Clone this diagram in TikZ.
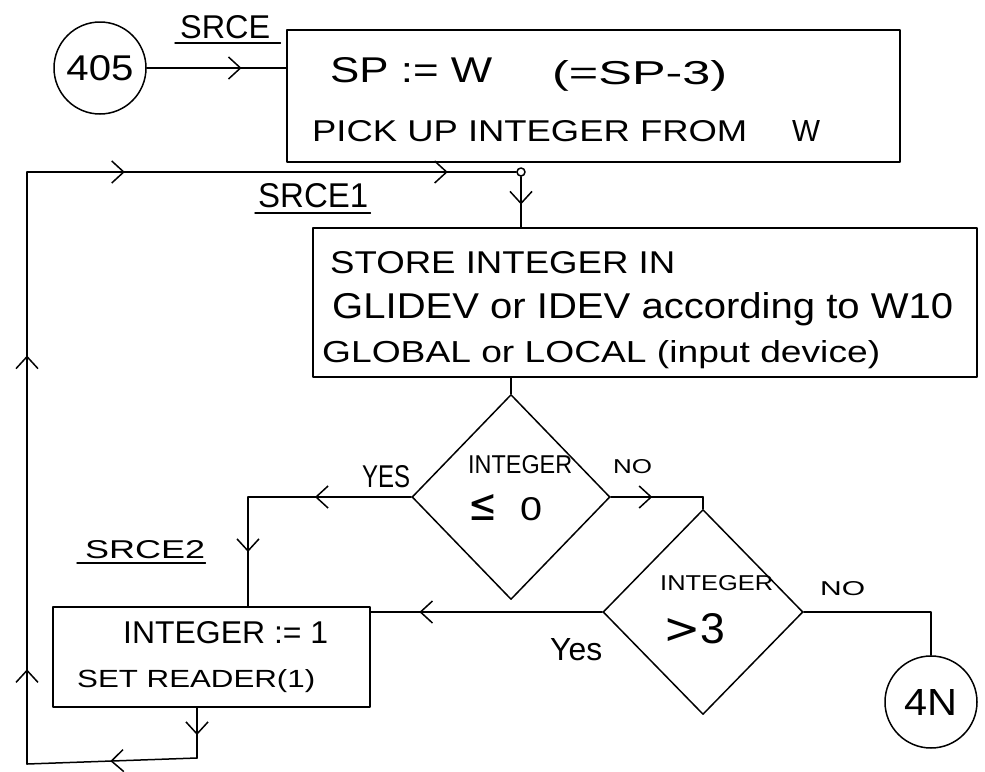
\documentclass[tikz,border=0pt]{standalone}
\usepackage{fontspec}
\setmainfont{Liberation Sans}
\newfontfamily\symf{DejaVu Sans}
\usepackage{graphicx}
\usetikzlibrary{shapes.geometric,arrows.meta,decorations.markings,calc}
\newcommand{\hw}[3]{\resizebox{#1pt}{#2pt}{#3}}
\tikzset{
  hd/.tip={Straight Barb[length=12pt,width=22pt]},
  ln/.style={line width=1.5pt, line cap=round, line join=round},
  amid/.style={postaction={decorate,decoration={markings,
      mark=at position #1 with {\arrow{hd}}}}},
  amidtwo/.style 2 args={postaction={decorate,decoration={markings,
      mark=at position #1 with {\arrow{hd}},
      mark=at position #2 with {\arrow{hd}}}}},
  txt/.style={anchor=base west, inner sep=0pt},
  boxn/.style={draw, ln, rectangle, inner sep=0pt},
  dia/.style={draw, ln, diamond, inner sep=0pt},
  conn/.style={draw, ln, circle, inner sep=0pt},
}
\begin{document}
\begin{tikzpicture}[x=1pt, y=-1pt]
\fill[white] (0,0) rectangle (985,771);
\useasboundingbox (0,0) rectangle (985,771);

% nodes
\node[conn, minimum size=92pt] (c405) at (100,68) {\hw{67}{25}{405}};
\node[boxn, minimum width=613pt, minimum height=132pt] (b1) at (593.5,96) {};
\node[boxn, minimum width=664pt, minimum height=149pt] (b2) at (645,302.5) {};
\node[dia, minimum width=198pt, minimum height=205pt] (d1) at (511,497) {};
\node[dia, minimum width=200pt, minimum height=205pt] (d2) at (703,612) {};
\node[boxn, minimum width=317pt, minimum height=100pt] (b3) at (211.5,657) {};
\node[conn, minimum size=92pt] (c4n) at (931,702) {\hw{53}{26}{4N}};
\node[conn, minimum size=8pt, fill=white] (j) at (521,172) {};

% texts
\node[txt] (tsrce) at (180,38) {\hw{90}{23}{SRCE}};
\node[txt] (tb1a) at (330,82) {\hw{162}{25}{SP := W}};
\node[txt] (tb1b) at (552,84) {\hw{175}{24}{(=SP-3)}};
\node[txt] (tb1c) at (312,141) {\hw{435}{21}{PICK UP INTEGER FROM}};
\node[txt] (tb1d) at (792,141) {\hw{28}{21}{W}};
\node[txt] (tsrce1) at (258,207) {\hw{110}{24}{SRCE1}};
\node[txt] (tb2a) at (330,273) {\hw{345}{22}{STORE INTEGER IN}};
\node[txt] (tb2b) at (332,318) {\hw{621}{26}{GLIDEV or IDEV according to W10}};
\node[txt] (tb2c) at (322,362) {\hw{558}{22}{GLOBAL or LOCAL (input device)}};
\node[txt] (td1a) at (468,473) {\hw{104}{18}{INTEGER}};
\node[txt] (td1b) at (468,520) {\hw{29}{26}{\symf ≤}};
\node[txt] (td1c) at (520,520) {\hw{22}{23}{0}};
\node[txt] (td2a) at (660,590) {\hw{113}{15}{INTEGER}};
\node[txt] (td2b) at (663,643) {\hw{62}{30}{{\symf >}3}};
\node[txt] (tyes1) at (362,487) {\hw{48}{22}{YES}};
\node[txt] (tno1) at (613,473) {\hw{39}{14}{NO}};
\node[txt] (tyes2) at (550,660) {\hw{52}{22}{Yes}};
\node[txt] (tno2) at (820,595) {\hw{45}{14}{NO}};
\node[txt] (tsrce2) at (85,558) {\hw{120}{18}{SRCE2}};
\node[txt] (tb3a) at (123,643) {\hw{205}{22}{INTEGER := 1}};
\node[txt] (tb3b) at (77,687) {\hw{238}{18}{SET READER(1)}};

% underlines
\draw[ln] ($(tsrce.base west)+(-5,5)$) -- ($(tsrce.base east)+(10,5)$);
\draw[ln] ($(tsrce1.base west)+(-3,6)$) -- ($(tsrce1.base east)+(2,6)$);
\draw[ln] ($(tsrce2.base west)+(-8,5)$) -- ($(tsrce2.base east)+(0,5)$);

% coordinates
\coordinate (b3o) at (197,707);
\coordinate (p1) at (197,758);
\coordinate (p2) at (27,764);
\coordinate (p3) at (27,172);
\coordinate (b3n) at (248,607);
\coordinate (d1l) at (248,497);

% connectors
\draw[ln, amid=0.68] (c405.east) -- (c405.east -| b1.west);
\draw[ln, amid=0.55] (j.south) -- (j |- b2.north);
\draw[ln] (d1.north |- b2.south) -- (d1.north);
\draw[ln, amid=0.59] (d1.west) -- (d1l);
\draw[ln, amid=0.5] (d1l) -- (b3n);
\draw[ln, amid=0.45] (d1.east) -- (d1.east -| d2.north);
\draw[ln] (d1.east -| d2.north) -- (d2.north);
\draw[ln, amid=0.79] (d2.west) -- (d2.west -| b3.east);
\draw[ln] (d2.east) -- (d2.east -| c4n.north) -- (c4n.north);
\draw[ln, amid=0.55] (b3o) -- (p1);
\draw[ln, amid=0.51] (p1) -- (p2);
\draw[ln, amidtwo={0.16}{0.69}] (p2) -- (p3);
\draw[ln, amidtwo={0.2}{0.86}] (p3) -- (j.west);
\end{tikzpicture}
\end{document}
